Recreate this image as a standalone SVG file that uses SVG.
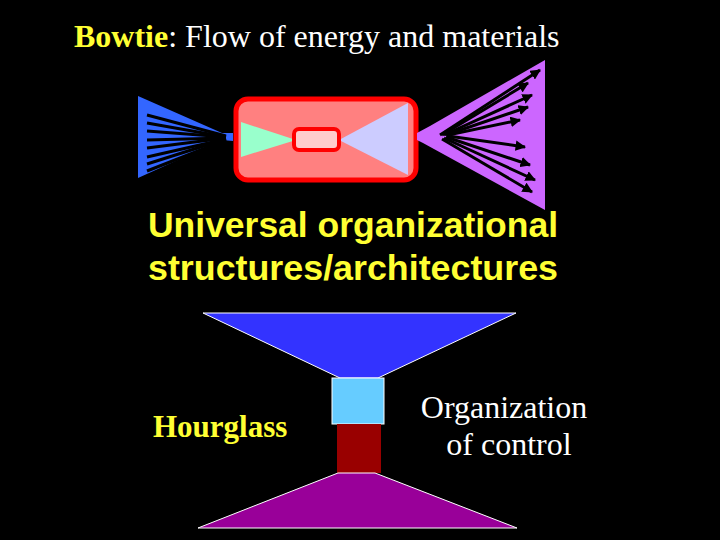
<svg xmlns="http://www.w3.org/2000/svg" width="720" height="540" viewBox="0 0 720 540">
<defs>
<style>
.serif{font-family:"Liberation Serif","Times New Roman",serif;}
.sans{font-family:"Liberation Sans",Arial,sans-serif;font-weight:bold;}
.blk{stroke:#000;stroke-width:3;fill:none;}
.arr{stroke:#000;stroke-width:3;fill:none;marker-end:url(#ah);}
</style>
<marker id="ah" viewBox="0 0 10 10" refX="9" refY="5" markerWidth="3.5" markerHeight="3.5" orient="auto">
<path d="M0,0 L10,5 L0,10 z" fill="#000"/>
</marker>
</defs>
<rect x="0" y="0" width="720" height="540" fill="#000"/>

<text class="serif" x="74" y="47" font-size="32" fill="#fff"><tspan fill="#FFFF33" font-weight="bold">Bowtie</tspan>: Flow of energy and materials</text>

<g id="input-fan">
<polygon points="138,96 138,178 222,140 233,141 233,133 222,133" fill="#3366FF"/>
<g class="blk">
<line x1="147" y1="115" x2="226" y2="136"/>
<line x1="147" y1="123" x2="226" y2="137"/>
<line x1="147" y1="131" x2="226" y2="137"/>
<line x1="147" y1="140" x2="226" y2="138"/>
<line x1="147" y1="148" x2="226" y2="138"/>
<line x1="147" y1="157" x2="226" y2="139"/>
<line x1="147" y1="164" x2="226" y2="139"/>
<line x1="147" y1="171" x2="226" y2="140"/>
</g>
</g>

<g id="core">
<rect x="236" y="99" width="180" height="81" rx="12" fill="#FF8080" stroke="#FF0000" stroke-width="5"/>
<polygon points="241,122 241,157 296,140" fill="#99FFCC"/>
<polygon points="339,140 408,103 408,175" fill="#CCCCFF"/>
<rect x="294" y="129" width="45" height="21" rx="5" fill="#FFCCCC" stroke="#FF0000" stroke-width="4"/>
</g>

<g id="output-fan">
<polygon points="417,133 430,126 545,60 545,210 423,143 417,140" fill="#CC66FF"/>
<g class="arr">
<line x1="440" y1="135" x2="540" y2="70"/>
<line x1="442" y1="135" x2="528" y2="83"/>
<line x1="444" y1="135" x2="532" y2="95"/>
<line x1="446" y1="135" x2="528" y2="107"/>
<line x1="448" y1="135" x2="520" y2="120"/>
<line x1="448" y1="136" x2="525" y2="147"/>
<line x1="446" y1="137" x2="530" y2="165"/>
<line x1="444" y1="138" x2="535" y2="180"/>
<line x1="442" y1="139" x2="532" y2="192"/>
</g>
</g>

<text class="sans" font-size="35" fill="#FFFF33">
<tspan x="148" y="237" textLength="410" lengthAdjust="spacingAndGlyphs">Universal organizational</tspan>
<tspan x="148" y="280" textLength="410" lengthAdjust="spacingAndGlyphs">structures/architectures</tspan>
</text>

<g id="hourglass">
<polygon points="203,313 516,313 378,378 340,378" fill="#3333FF" stroke="#fff" stroke-width="1"/>
<rect x="332" y="378" width="52" height="46" fill="#66CCFF" stroke="#fff" stroke-width="1"/>
<rect x="337" y="424" width="44" height="49" fill="#990000"/>
<polygon points="338,473 375,473 517,528 198,528" fill="#990099" stroke="#fff" stroke-width="1"/>
</g>

<text class="serif" x="153" y="437" font-size="31" font-weight="bold" fill="#FFFF33">Hourglass</text>
<text class="serif" font-size="32" fill="#fff" text-anchor="middle">
<tspan x="508" y="418">Organization</tspan>
<tspan x="509" y="455">of control</tspan>
</text>
</svg>
